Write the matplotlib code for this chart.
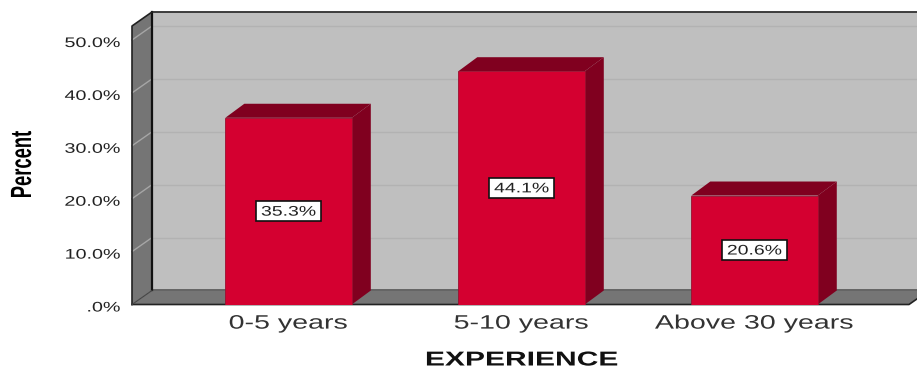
import matplotlib
matplotlib.use('Agg')
import matplotlib.pyplot as plt
from matplotlib.patches import Polygon, Rectangle
from matplotlib.patheffects import AbstractPathEffect
from matplotlib.transforms import Affine2D

categories = ['0-5 years', '5-10 years', 'Above 30 years']
percents = [35.3, 44.1, 20.6]
y_ticks = [0, 10, 20, 30, 40, 50]
y_tick_labels = ['.0%', '10.0%', '20.0%', '30.0%', '40.0%', '50.0%']

WALL = '#bfbfbf'
SIDE = '#757575'
RED = '#d40030'
DARK_RED = '#80001f'

plt.rcParams['font.family'] = ['Liberation Sans', 'DejaVu Sans']


class Stretch(AbstractPathEffect):
    # widen or squeeze glyphs along the text direction, keeping the anchor put
    def __init__(self, sx, anchor='center', shift_y=0):
        super().__init__()
        self.sx = sx
        self.anchor = anchor
        self.shift_y = shift_y

    def draw_path(self, renderer, gc, tpath, affine, rgbFace=None):
        box = tpath.get_extents()
        x0 = box.x1 if self.anchor == 'right' else (box.x0 + box.x1) / 2
        local = Affine2D().translate(-x0, 0).scale(self.sx, 1).translate(x0, 0)
        renderer.draw_path(gc, tpath, local + affine + Affine2D().translate(0, self.shift_y),
                           rgbFace)


fig = plt.figure(figsize=(9.17, 3.69), dpi=100)
ax = fig.add_axes([132 / 917, (369 - 304.5) / 369, 777 / 917, 278.5 / 369])
ax.set_xlim(-0.672, 2.663)
ax.set_ylim(0, 52.65)
ax.patch.set_visible(False)
for s in ax.spines.values():
    s.set_visible(False)

x0, x1 = ax.get_xlim()
top = ax.get_ylim()[1]
dx = 20 / 233   # depth of the box in category units
dy = 2.65       # depth of the box in percent units
bar_w = 126.5 / 233
bar_dx = 19 / 233


def poly(pts, face, edge='none', lw=0, z=1):
    ax.add_patch(Polygon(pts, closed=True, facecolor=face, edgecolor=edge,
                         linewidth=lw, zorder=z, clip_on=False))


# back wall, left wall, floor
poly([(x0 + dx, dy), (x1 + dx, dy), (x1 + dx, top + dy), (x0 + dx, top + dy)], WALL)
poly([(x0, 0), (x0 + dx, dy), (x0 + dx, top + dy), (x0, top)], SIDE)
poly([(x0, 0), (x1, 0), (x1 + dx, dy), (x0 + dx, dy)], SIDE)

# grid lines run across the back wall and down the left wall
for t in y_ticks[1:]:
    ax.plot([x0 + dx, x1 + dx], [t + dy, t + dy], color='#b2b2b2', lw=1,
            zorder=2, clip_on=False)
    ax.plot([x0, x0 + dx], [t, t + dy], color='#a6a6a6', lw=1, zorder=2, clip_on=False)

# box outline
ax.plot([x0 + dx, x0 + dx], [dy, top + dy], color='#111111', lw=1.6, zorder=3, clip_on=False)
ax.plot([x0 + dx, x1 + dx], [dy, dy], color='#555555', lw=1.2, zorder=2, clip_on=False)
ax.plot([x0, x0, x0 + dx, x1 + dx], [0, top, top + dy, top + dy], color='#222222',
        lw=1.2, zorder=3, clip_on=False)
ax.plot([x0, x1, x1 + dx], [0, 0, dy], color='#222222', lw=1.2, zorder=3, clip_on=False)
ax.plot([x0, x0 + dx], [0, dy], color='#444444', lw=0.8, zorder=3, clip_on=False)

xs = list(range(len(categories)))
ax.bar(xs, percents, width=bar_w, color=RED, edgecolor='#9a1030', linewidth=0.6, zorder=5)

for x, p in zip(xs, percents):
    l, r = x - bar_w / 2, x + bar_w / 2
    poly([(l, p), (r, p), (r + bar_dx, p + dy), (l + bar_dx, p + dy)], DARK_RED, z=4)
    poly([(r, 0), (r + bar_dx, dy), (r + bar_dx, p + dy), (r, p)], DARK_RED, z=4)

    # value box at mid height of the bar
    w, h = 65 / 233, 3.7
    ax.add_patch(Rectangle((x - w / 2, p / 2 - h / 2), w, h, facecolor='white',
                           edgecolor='#111111', linewidth=1.2, zorder=6))
    ax.text(x, p / 2, f'{p:.1f}%', ha='center', va='center', fontsize=10, color='#222222',
            zorder=7, path_effects=[Stretch(1.4, shift_y=-0.5)])

ax.tick_params(length=0)
ax.set_yticks(y_ticks, y_tick_labels)
ax.tick_params(axis='y', pad=8.5)
for lab in ax.get_yticklabels():
    lab.set_fontsize(10)
    lab.set_color('#222222')
    lab.set_path_effects([Stretch(1.42, 'right', shift_y=-1.5)])

ax.set_xticks(xs, categories)
ax.tick_params(axis='x', pad=8)
for lab in ax.get_xticklabels():
    lab.set_fontsize(14)
    lab.set_color('#333333')
    lab.set_path_effects([Stretch(1.47)])

fig.text(522 / 917, (369 - 360) / 369, 'EXPERIENCE', ha='center', va='center',
         fontsize=14.5, fontweight='bold', color='#111111', path_effects=[Stretch(1.49)])
fig.text(23 / 917, (369 - 165) / 369, 'Percent', rotation=90, ha='center', va='center',
         fontsize=21, fontweight='bold', color='black', path_effects=[Stretch(0.63)])

fig.savefig('out.png', dpi=100)
